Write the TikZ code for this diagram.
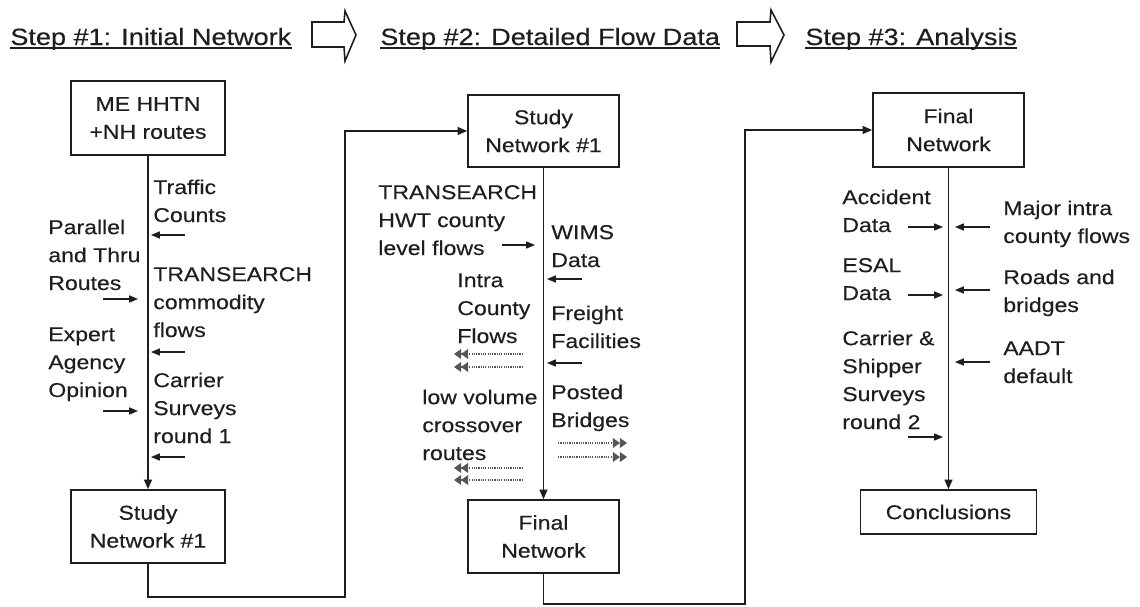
\documentclass[tikz,border=0pt]{standalone}
\usepackage{fontspec}
\setmainfont[FakeStretch=1.15,FakeBold=0.3]{Liberation Sans}
\usetikzlibrary{arrows.meta}
\definecolor{ink}{HTML}{1E1E1E}
\begin{document}
\begin{tikzpicture}[x=0.02cm,y=-0.02cm,
  every node/.style={text=ink},
  lbl/.style={anchor=base west,align=left,inner sep=0pt,font=\fontsize{11.4}{15.9}\selectfont},
  hdr/.style={anchor=base west,inner sep=0pt,font=\fontsize{13.4}{16}\selectfont},
  box/.style={draw=ink,line width=0.9pt,align=center,inner sep=0pt,font=\fontsize{11.4}{15.9}\selectfont},
  flow/.style={draw=ink,line width=0.9pt,-{Triangle[length=5.5pt,width=4.5pt]}},
  uline/.style={draw=ink,line width=0.8pt},
  feed/.style={draw=ink,line width=0.6pt,-{Triangle[length=5pt,width=4pt]}},
  dots/.style={draw=ink!75,line width=0.8pt,dash pattern=on 0.7pt off 0.6pt,-{Triangle[length=4pt,width=5.5pt]Triangle[length=4pt,width=5.5pt]}},
  blockarrow/.style={draw=ink,line width=0.9pt,line join=miter}]
\useasboundingbox (0,0) rectangle (1140,606);

% headers
\node[hdr] (h1) at (10,45) {Step \#1: Initial Network};
\node[hdr] (h2) at (380,45) {Step \#2: Detailed Flow Data};
\node[hdr] (h3) at (805,45) {Step \#3: Analysis};
\foreach \h in {h1,h2,h3}
  \draw[uline] ([yshift=-1.8pt]\h.base west) -- ([yshift=-1.8pt]\h.base east);

% block arrows between headers
\draw[blockarrow] (312,22) -- (344,22) -- (345,11) -- (356,35) -- (345,61) -- (344,47) -- (312,47) -- cycle;
\draw[blockarrow] (737,22) -- (770,22) -- (771,10) -- (784,35) -- (771,62) -- (770,46) -- (737,46) -- cycle;

% boxes
\node[box,minimum width=3.08cm,minimum height=1.48cm] (b11) at (148,118) {ME HHTN\\+NH routes};
\node[box,minimum width=3.08cm,minimum height=1.46cm] (b12) at (148,526.5) {Study\\Network \#1};
\node[box,minimum width=3.02cm,minimum height=1.44cm] (b21) at (543.5,131) {Study\\Network \#1};
\node[box,minimum width=3.02cm,minimum height=1.46cm] (b22) at (543.5,536.5) {Final\\Network};
\node[box,minimum width=3.02cm,minimum height=1.48cm] (b31) at (948.5,130) {Final\\Network};
\node[box,minimum width=3.52cm,minimum height=0.88cm] (b32) at (948.5,512) {Conclusions};

% main connectors
\coordinate (c1) at (345,597);
\coordinate (c2) at (745,604);
\draw[flow] (b11.south) -- (b12.north);
\draw[flow] (b12.south) |- (c1) |- (b21.west);
\draw[flow] (b21.south) -- (b22.north);
\draw[flow] (b22.south) |- (c2) |- (b31.west);
\draw[flow] (b31.south) -- (b32.north);

% step 1 labels (positions are the baseline of the last line)
\node[lbl] (l11) at (153,222) {Traffic\\Counts};
\node[lbl] (l12) at (48,290) {Parallel\\and Thru\\Routes};
\node[lbl] (l13) at (153,337) {TRANSEARCH\\commodity\\flows};
\node[lbl] (l14) at (48,397) {Expert\\Agency\\Opinion};
\node[lbl] (l15) at (153,443) {Carrier\\Surveys\\round 1};
\foreach \y in {235,352,457} \draw[feed] (185,\y) -- (151,\y);
\foreach \y in {299,411} \draw[feed] (103,\y) -- (138,\y);

% step 2 labels
\node[lbl] (l21) at (378,255) {TRANSEARCH\\HWT county\\level flows};
\node[lbl] (l22) at (551,267) {WIMS\\Data};
\node[lbl] (l23) at (457,343) {Intra\\County\\Flows};
\node[lbl] (l24) at (551,348) {Freight\\Facilities};
\node[lbl] (l25) at (422,460) {low volume\\crossover\\routes};
\node[lbl] (l26) at (551,427) {Posted\\Bridges};
\draw[feed] (502,245) -- (535,245);
\foreach \y in {279,363} \draw[feed] (582,\y) -- (547,\y);
\foreach \y in {354,367,468,480} \draw[dots] (523,\y) -- (454,\y);
\foreach \y in {443,457} \draw[dots] (558,\y) -- (627,\y);

% step 3 labels
\node[lbl] (l31) at (842,232) {Accident\\Data};
\node[lbl] (l32) at (842,300) {ESAL\\Data};
\node[lbl] (l33) at (842,429) {Carrier \&\\Shipper\\Surveys\\round 2};
\node[lbl] (l34) at (1003,243) {Major intra\\county flows};
\node[lbl] (l35) at (1003,312) {Roads and\\bridges};
\node[lbl] (l36) at (1003,383) {AADT\\default};
\foreach \y in {227,295,437} \draw[feed] (908,\y) -- (943,\y);
\foreach \y in {227,290,362} \draw[feed] (990,\y) -- (955,\y);
\end{tikzpicture}
\end{document}
